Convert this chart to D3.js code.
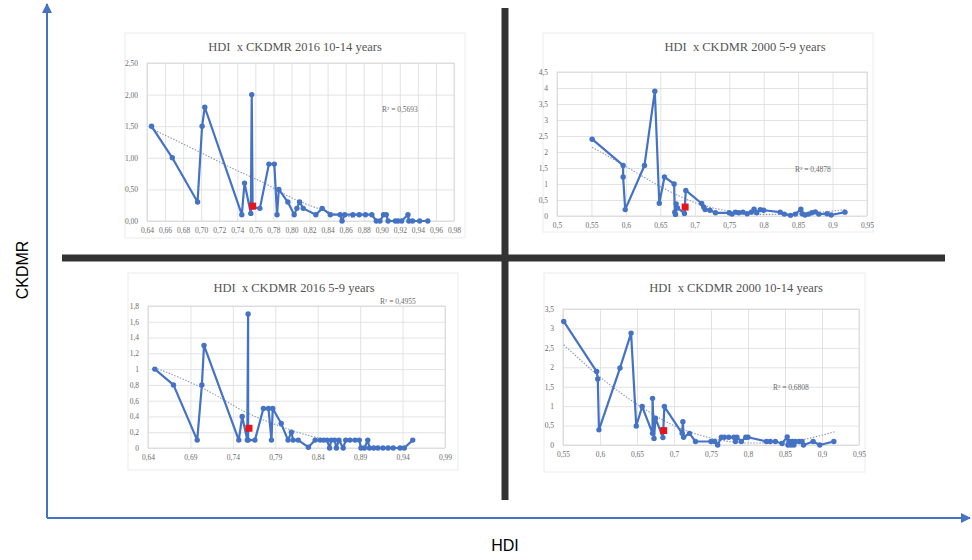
<!DOCTYPE html>
<html>
<head>
<meta charset="utf-8">
<script src="https://cdn.jsdelivr.net/npm/d3@7/dist/d3.min.js"></script>
<style>
  body { margin: 0; background: #fff; }
  svg { display: block; }
  .tick text { font-family: "Liberation Serif", "DejaVu Serif", serif; fill: #6b6b6b; }
</style>
</head>
<body>
<div id="chart"></div>
<script>
'use strict';

// [HDI, CKDMR] in the order the line runs through them
const hdi2016_10_14 = [
  [0.645, 1.50], [0.668, 1.00], [0.696, 0.30], [0.701, 1.50], [0.704, 1.80],
  [0.745, 0.10], [0.748, 0.60], [0.755, 0.12], [0.756, 2.00], [0.757, 0.22],
  [0.765, 0.20], [0.775, 0.90], [0.781, 0.90], [0.784, 0.10], [0.786, 0.50],
  [0.796, 0.30], [0.803, 0.10], [0.806, 0.20], [0.809, 0.30], [0.813, 0.20],
  [0.827, 0.10], [0.834, 0.20], [0.843, 0.10], [0.854, 0.10], [0.856, 0.00],
  [0.859, 0.10], [0.868, 0.10], [0.875, 0.10], [0.882, 0.10], [0.889, 0.10],
  [0.894, 0.00], [0.898, 0.00], [0.902, 0.10], [0.905, 0.10], [0.907, 0.00],
  [0.915, 0.00], [0.918, 0.00], [0.922, 0.00], [0.929, 0.10], [0.930, 0.00],
  [0.934, 0.00], [0.942, 0.00], [0.951, 0.00]
];
const hdi2000_5_9 = [
  [0.551, 2.40], [0.596, 1.58], [0.596, 1.22], [0.599, 0.20], [0.627, 1.58],
  [0.642, 3.90], [0.6485, 0.40], [0.656, 1.22], [0.670, 1.00], [0.671, 0.12],
  [0.672, 0.05], [0.673, 0.38], [0.675, 0.25], [0.685, 0.08], [0.687, 0.80],
  [0.710, 0.39], [0.713, 0.28], [0.715, 0.20], [0.722, 0.18], [0.730, 0.10],
  [0.750, 0.10], [0.754, 0.06], [0.759, 0.12], [0.764, 0.10], [0.770, 0.12],
  [0.776, 0.07], [0.782, 0.12], [0.786, 0.21], [0.790, 0.10], [0.795, 0.20],
  [0.800, 0.18], [0.824, 0.12], [0.830, 0.06], [0.839, 0.02], [0.846, 0.06],
  [0.854, 0.21], [0.856, 0.07], [0.860, 0.03], [0.865, 0.06], [0.870, 0.10],
  [0.875, 0.13], [0.880, 0.06], [0.892, 0.07], [0.898, 0.03], [0.918, 0.12]
];
const hdi2016_5_9 = [
  [0.648, 1.00], [0.670, 0.80], [0.698, 0.10], [0.7035, 0.80], [0.706, 1.30],
  [0.747, 0.10], [0.751, 0.40], [0.757, 0.10], [0.758, 1.70], [0.758, 0.10],
  [0.766, 0.10], [0.776, 0.50], [0.782, 0.50], [0.7855, 0.10], [0.787, 0.50],
  [0.797, 0.31], [0.805, 0.10], [0.809, 0.20], [0.811, 0.10], [0.817, 0.10],
  [0.829, 0.01], [0.837, 0.10], [0.843, 0.10], [0.847, 0.10], [0.851, 0.10],
  [0.854, 0.00], [0.856, 0.10], [0.860, 0.10], [0.862, 0.00], [0.865, 0.10],
  [0.870, 0.00], [0.873, 0.10], [0.878, 0.10], [0.884, 0.10], [0.889, 0.10],
  [0.891, 0.00], [0.895, 0.00], [0.899, 0.10], [0.901, 0.00], [0.906, 0.00],
  [0.911, 0.00], [0.917, 0.00], [0.923, 0.00], [0.929, 0.00], [0.937, 0.00],
  [0.942, 0.00], [0.952, 0.10]
];
const hdi2000_10_14 = [
  [0.551, 3.18], [0.5955, 1.89], [0.597, 1.70], [0.5986, 0.39], [0.627, 1.98],
  [0.642, 2.88], [0.649, 0.49], [0.657, 0.99], [0.671, 0.30], [0.671, 1.20],
  [0.673, 0.17], [0.675, 0.69], [0.685, 0.19], [0.687, 0.99], [0.711, 0.30],
  [0.712, 0.60], [0.713, 0.20], [0.721, 0.30], [0.729, 0.09], [0.750, 0.09],
  [0.755, 0.09], [0.759, 0.00], [0.764, 0.20], [0.768, 0.20], [0.774, 0.20],
  [0.781, 0.20], [0.783, 0.09], [0.785, 0.20], [0.791, 0.09], [0.797, 0.20],
  [0.800, 0.20], [0.825, 0.09], [0.830, 0.09], [0.837, 0.09], [0.846, 0.04],
  [0.853, 0.21], [0.854, 0.00], [0.856, 0.09], [0.858, 0.00], [0.860, 0.09],
  [0.862, 0.00], [0.864, 0.09], [0.869, 0.09], [0.873, 0.09], [0.875, 0.00],
  [0.888, 0.09], [0.897, 0.00], [0.916, 0.09]
];

// the highlighted (red) country in each panel
const red2016_10_14 = [0.757, 0.235];
const red2000_5_9   = [0.686, 0.28];
const red2016_5_9   = [0.759, 0.25];
const red2000_10_14 = [0.686, 0.37];

// dotted trend lines
const trend2016_10_14 = [[0.645, 1.46], [0.70, 1.08], [0.735, 0.83], [0.767, 0.62], [0.803, 0.35], [0.84, 0.15], [0.87, 0.05]];
const trend2000_5_9   = [[0.551, 2.15], [0.60, 1.55], [0.65, 0.92], [0.70, 0.42], [0.75, 0.15], [0.80, 0.05], [0.85, 0.07], [0.918, 0.20]];
const trend2016_5_9   = [[0.648, 1.02], [0.706, 0.75], [0.758, 0.44], [0.797, 0.27], [0.84, 0.13], [0.87, 0.08]];
const trend2000_10_14 = [[0.551, 2.58], [0.60, 1.75], [0.65, 1.05], [0.70, 0.50], [0.75, 0.18], [0.80, 0.05], [0.85, 0.08], [0.917, 0.34]];

const titles = [
  'HDI  x CKDMR 2016 10-14 years',
  'HDI  x CKDMR 2000 5-9 years',
  'HDI  x CKDMR 2016 5-9 years',
  'HDI  x CKDMR 2000 10-14 years'
];
const rSquared = ['R² = 0,5693', 'R² = 0,4878', 'R² = 0,4955', 'R² = 0,6808'];

// tick values
const xTicks1 = [0.64, 0.66, 0.68, 0.70, 0.72, 0.74, 0.76, 0.78, 0.80, 0.82, 0.84, 0.86, 0.88, 0.90, 0.92, 0.94, 0.96, 0.98];
const yTicks1 = [0, 0.5, 1, 1.5, 2, 2.5];
const xTicks2 = [0.5, 0.55, 0.6, 0.65, 0.7, 0.75, 0.8, 0.85, 0.9, 0.95];
const yTicks2 = [0, 0.5, 1, 1.5, 2, 2.5, 3, 3.5, 4, 4.5];
const xTicks3 = [0.64, 0.69, 0.74, 0.79, 0.84, 0.89, 0.94, 0.99];
const yTicks3 = [0, 0.2, 0.4, 0.6, 0.8, 1, 1.2, 1.4, 1.6, 1.8];
const xTicks4 = [0.55, 0.6, 0.65, 0.7, 0.75, 0.8, 0.85, 0.9, 0.95];
const yTicks4 = [0, 0.5, 1, 1.5, 2, 2.5, 3, 3.5];

const comma2  = d => d3.format('.2f')(d).replace('.', ',');
const general = d => String(+d.toFixed(2)).replace('.', ',');

const width = 972, height = 560;
const blue = '#4472c4';

const svg = d3.select('#chart').append('svg')
    .attr('width', width)
    .attr('height', height);

svg.append('defs').append('marker')
    .attr('id', 'arrow')
    .attr('viewBox', '0 0 10 10')
    .attr('refX', 9).attr('refY', 5)
    .attr('markerWidth', 5).attr('markerHeight', 5)
    .attr('orient', 'auto')
  .append('path')
    .attr('d', 'M0,0 L10,5 L0,10 z')
    .attr('fill', blue);

// panel layout: frame box, plot box
const panels = [
  {data: hdi2016_10_14, red: red2016_10_14, trend: trend2016_10_14, xd: [0.64, 0.98], yd: [0, 2.5],
   xt: xTicks1, yt: yTicks1, xf: comma2, yf: comma2,
   frame: [125, 33, 465, 238], plot: [147, 63, 454, 221], titleX: 295, titleY: 51, rX: 382, rY: 112},
  {data: hdi2000_5_9, red: red2000_5_9, trend: trend2000_5_9, xd: [0.5, 0.95], yd: [0, 4.5],
   xt: xTicks2, yt: yTicks2, xf: general, yf: general,
   frame: [543, 33, 873, 232], plot: [557, 72, 867, 216], titleX: 745, titleY: 51, rX: 795, rY: 172},
  {data: hdi2016_5_9, red: red2016_5_9, trend: trend2016_5_9, xd: [0.64, 0.99], yd: [0, 1.8],
   xt: xTicks3, yt: yTicks3, xf: general, yf: general,
   frame: [128, 273, 458, 470], plot: [148, 306, 445, 448], titleX: 294, titleY: 292, rX: 380, rY: 304},
  {data: hdi2000_10_14, red: red2000_10_14, trend: trend2000_10_14, xd: [0.55, 0.95], yd: [0, 3.5],
   xt: xTicks4, yt: yTicks4, xf: general, yf: general,
   frame: [544, 273, 865, 472], plot: [563, 309, 859, 445], titleX: 736, titleY: 292, rX: 773, rY: 390}
];

panels.forEach(function(p, i) {
    const [l, t, r, b] = p.plot;
    const x = d3.scaleLinear().domain(p.xd).range([l, r]);
    const y = d3.scaleLinear().domain(p.yd).range([b, t]);
    const g = svg.append('g');

    g.append('rect')
        .attr('x', p.frame[0]).attr('y', p.frame[1])
        .attr('width', p.frame[2] - p.frame[0]).attr('height', p.frame[3] - p.frame[1])
        .attr('fill', '#fff').attr('stroke', '#ececec').attr('stroke-width', 1);

    // grid + tick labels
    const gx = g.append('g')
        .attr('transform', 'translate(0,' + b + ')')
        .call(d3.axisBottom(x).tickValues(p.xt).tickSize(-(b - t)).tickPadding(7).tickFormat(p.xf));
    const gy = g.append('g')
        .attr('transform', 'translate(' + l + ',0)')
        .call(d3.axisLeft(y).tickValues(p.yt).tickSize(-(r - l)).tickPadding(9).tickFormat(p.yf));
    [gx, gy].forEach(function(a) {
        a.select('.domain').remove();
        a.selectAll('.tick line').attr('stroke', '#dcdcdc').attr('stroke-width', 0.8);
        a.selectAll('.tick text').attr('font-size', 7.5);
    });

    g.append('rect')
        .attr('x', l).attr('y', t).attr('width', r - l).attr('height', b - t)
        .attr('fill', 'none').attr('stroke', '#d6d6d6').attr('stroke-width', 0.8);

    // trend
    g.append('path')
        .datum(p.trend)
        .attr('d', d3.line().x(d => x(d[0])).y(d => y(d[1])).curve(d3.curveMonotoneX))
        .attr('fill', 'none')
        .attr('stroke', '#8c9ab8')
        .attr('stroke-width', 1.1)
        .attr('stroke-dasharray', '1.5,1.5');

    // series
    g.append('path')
        .datum(p.data)
        .attr('d', d3.line().x(d => x(d[0])).y(d => y(d[1])))
        .attr('fill', 'none')
        .attr('stroke', blue)
        .attr('stroke-width', 2.2)
        .attr('stroke-linejoin', 'round');

    g.selectAll('circle.pt')
        .data(p.data)
        .enter()
        .append('circle')
        .attr('class', 'pt')
        .attr('cx', d => x(d[0]))
        .attr('cy', d => y(d[1]))
        .attr('r', 2.7)
        .attr('fill', blue);

    g.append('rect')
        .attr('x', x(p.red[0]) - 3.5)
        .attr('y', y(p.red[1]) - 3.5)
        .attr('width', 7).attr('height', 7)
        .attr('fill', '#e8141b');

    g.append('text')
        .attr('x', p.rX).attr('y', p.rY)
        .attr('font-family', '"Liberation Serif", serif')
        .attr('font-size', 7.5)
        .attr('fill', '#6b6b6b')
        .text(rSquared[i]);

    g.append('text')
        .attr('x', p.titleX).attr('y', p.titleY)
        .attr('text-anchor', 'middle')
        .attr('font-family', '"Liberation Serif", "DejaVu Serif", serif')
        .attr('font-size', 12.5)
        .attr('fill', '#555')
        .style('white-space', 'pre')
        .text(titles[i]);
});

// dark cross dividing the four panels
svg.append('line')
    .attr('x1', 505).attr('y1', 8).attr('x2', 505).attr('y2', 500)
    .attr('stroke', '#333').attr('stroke-width', 7);
svg.append('line')
    .attr('x1', 62).attr('y1', 258).attr('x2', 945).attr('y2', 258)
    .attr('stroke', '#333').attr('stroke-width', 7);

// big blue axes
svg.append('line')
    .attr('x1', 47).attr('y1', 518).attr('x2', 47).attr('y2', 4)
    .attr('stroke', blue).attr('stroke-width', 2)
    .attr('marker-end', 'url(#arrow)');
svg.append('line')
    .attr('x1', 47).attr('y1', 518).attr('x2', 970).attr('y2', 518)
    .attr('stroke', blue).attr('stroke-width', 2)
    .attr('marker-end', 'url(#arrow)');

svg.append('text')
    .attr('transform', 'translate(28,270) rotate(-90)')
    .attr('text-anchor', 'middle')
    .attr('font-family', 'Arial, "Liberation Sans", sans-serif')
    .attr('font-size', 16)
    .text('CKDMR');
svg.append('text')
    .attr('x', 505).attr('y', 551)
    .attr('text-anchor', 'middle')
    .attr('font-family', 'Arial, "Liberation Sans", sans-serif')
    .attr('font-size', 16)
    .text('HDI');
</script>
</body>
</html>
